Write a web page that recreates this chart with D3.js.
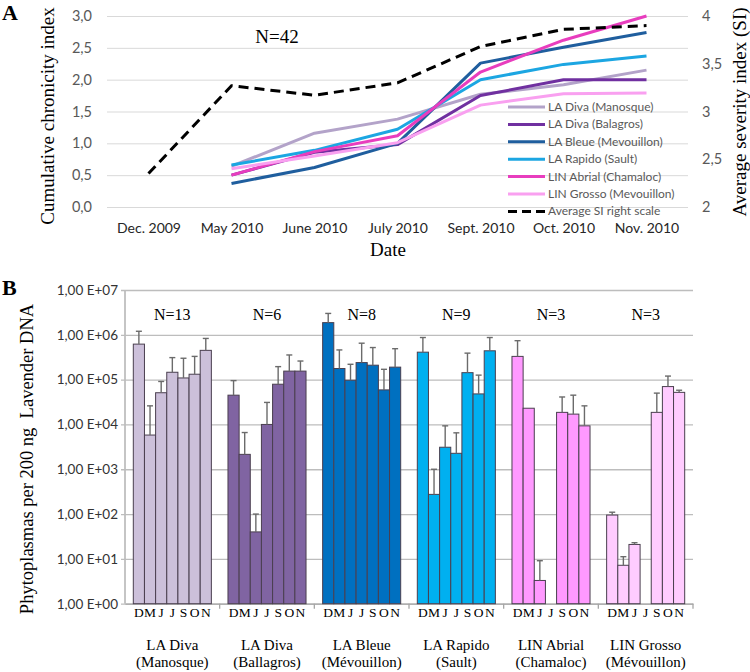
<!DOCTYPE html>
<html>
<head>
<meta charset="utf-8">
<script src="https://cdn.jsdelivr.net/npm/d3@7"></script>
<style>
  html, body { margin: 0; padding: 0; background: #fff; }
  svg { display: block; }
</style>
</head>
<body>
<svg id="chart" width="750" height="672"></svg>
<script>
// ---------------- DATA: Panel A ----------------
const dates = ["Dec. 2009", "May 2010", "June 2010", "July 2010", "Sept. 2010", "Oct. 2010", "Nov. 2010"];
const seriesNames = ["LA Diva (Manosque)", "LA Diva (Balagros)", "LA Bleue (Mevouillon)", "LA Rapido (Sault)", "LIN Abrial (Chamaloc)", "LIN Grosso (Mevouillon)"];
const divaManosque = [null, 0.64, 1.16, 1.38, 1.77, 1.92, 2.15];
const divaBalagros = [null, 0.50, 0.86, 0.98, 1.75, 2.00, 2.00];
const bleueMevouillon = [null, 0.37, 0.62, 1.00, 2.26, 2.51, 2.74];
const rapidoSault = [null, 0.66, 0.89, 1.22, 2.00, 2.24, 2.37];
const abrialChamaloc = [null, 0.50, 0.87, 1.12, 2.12, 2.62, 3.00];
const grossoMevouillon = [null, 0.60, 0.80, 1.01, 1.60, 1.78, 1.79];
const averageSI = [2.35, 3.27, 3.17, 3.30, 3.68, 3.86, 3.90];
const siLabel = "Average SI right scale";
const leftTicksA = [0, 0.5, 1, 1.5, 2, 2.5, 3];
const rightTicksA = [2, 2.5, 3, 3.5, 4];
const lineColors = ["#B3A3C9", "#7030A0", "#1F5E9E", "#1CA6E2", "#E83DBE", "#F9A0F0"];

// ---------------- DATA: Panel B ----------------
const groupNames = ["LA Diva", "LA Diva", "LA Bleue", "LA Rapido", "LIN Abrial", "LIN Grosso"];
const groupSites = ["(Manosque)", "(Ballagros)", "(Mévouillon)", "(Sault)", "(Chamaloc)", "(Mévouillon)"];
const groupN = ["N=13", "N=6", "N=8", "N=9", "N=3", "N=3"];
const monthLetters = ["D", "M", "J", "J", "S", "O", "N"];
const valsManosque = [6.2e5, 5.8e3, 5.1e4, 1.46e5, 1.09e5, 1.32e5, 4.5e5];
const errManosque  = [1.2e6, 2.6e4, 9.1e4, 3.1e5, 3.0e5, 3.3e5, 8.3e5];
const valsBallagros = [4.5e4, 2.15e3, 40, 1.0e4, 7.9e4, 1.55e5, 1.55e5];
const errBallagros  = [9.5e4, 6.6e3, 100, 3.1e4, 1.95e5, 3.55e5, 2.6e5];
const valsBleue = [1.87e6, 1.77e5, 9.7e4, 2.4e5, 2.1e5, 5.9e4, 1.9e5];
const errBleue  = [3.0e6, 4.6e5, 2.2e5, 6.5e5, 5.2e5, 1.7e5, 4.9e5];
const valsRapido = [4.1e5, 275, 3.1e3, 2.27e3, 1.43e5, 4.8e4, 4.4e5];
const errRapido  = [8.7e5, 1.0e3, 9.3e3, 6.5e3, 3.9e5, 1.26e5, 8.7e5];
const valsAbrial = [3.3e5, 2.3e4, 3.3, null, 1.86e4, 1.7e4, 9.3e3];
const errAbrial  = [7.4e5, null, 9.1, null, 4.1e4, 4.5e4, 2.6e4];
const valsGrosso = [95, 7.2, 21, null, 1.86e4, 7.0e4, 5.2e4];
const errGrosso  = [110, 11.2, 23, null, 5.0e4, 1.2e5, 5.8e4];
const barColors = ["#CCC0DA", "#8064A2", "#0070C0", "#00B0F0", "#FF99FF", "#FFCCFF"];
const tickValuesB = [1, 10, 100, 1e3, 1e4, 1e5, 1e6, 1e7];
const tickLabelsB = ["1,00 E+00", "1,00 E+01", "1,00 E+02", "1,00 E+03", "1,00 E+04", "1,00 E+05", "1,00 E+06", "1,00 E+07"];

// ---------------- DRAW ----------------
const svg = d3.select("#chart");
svg.append("rect").attr("width", 750).attr("height", 672).attr("fill", "#fff");
const SANS = "Lato, 'Liberation Sans', sans-serif";
const SERIF = "'Liberation Serif', 'DejaVu Serif', serif";
const comma = v => d3.format("~g")(v).replace(".", ",");

// ===== Panel A =====
const xA = d3.scalePoint().domain(dates).range([107, 688]).padding(0.5);
const yL = d3.scaleLinear().domain([0, 3]).range([207, 16]);
const yR = d3.scaleLinear().domain([2, 4]).range([207, 16]);

const gA = svg.append("g");
const yAxisL = gA.append("g").attr("transform", "translate(107,0)")
  .call(d3.axisLeft(yL).tickValues(leftTicksA).tickSize(-581).tickPadding(15)
    .tickFormat(v => d3.format(".1f")(v).replace(".", ",")));
yAxisL.select(".domain").remove();
yAxisL.selectAll("line").attr("stroke", "#D9D9D9").attr("stroke-width", 1);
yAxisL.selectAll("text").attr("font-family", SANS).attr("font-size", 14.5).attr("fill", "#595959");

const yAxisR = gA.append("g").attr("transform", "translate(688,0)")
  .call(d3.axisRight(yR).tickValues(rightTicksA).tickSize(0).tickPadding(14).tickFormat(comma));
yAxisR.select(".domain").remove();
yAxisR.selectAll("text").attr("font-family", SANS).attr("font-size", 14.5).attr("fill", "#595959");

const xAxisA = gA.append("g").attr("transform", "translate(0,207)")
  .call(d3.axisBottom(xA).tickSize(0).tickPadding(16));
xAxisA.select(".domain").remove();
xAxisA.selectAll("text").attr("font-family", SANS).attr("font-size", 14).attr("fill", "#262626");

const seriesA = [divaManosque, divaBalagros, bleueMevouillon, rapidoSault, abrialChamaloc, grossoMevouillon];
const lineL = d3.line().defined(d => d.v != null).x(d => xA(d.d)).y(d => yL(d.v));
seriesA.forEach((s, i) => {
  gA.append("path")
    .datum(s.map((v, j) => ({ d: dates[j], v })))
    .attr("d", lineL).attr("fill", "none")
    .attr("stroke", lineColors[i]).attr("stroke-width", 3).attr("stroke-linejoin", "round");
});
const lineR = d3.line().x((d, j) => xA(dates[j])).y(d => yR(d));
gA.append("path").datum(averageSI).attr("d", lineR).attr("fill", "none")
  .attr("stroke", "#000").attr("stroke-width", 3).attr("stroke-dasharray", "10,6");

// legend
const legendLabels = seriesNames.concat([siLabel]);
legendLabels.forEach((lab, i) => {
  const y = 107 + i * 17.4;
  const ln = gA.append("line").attr("x1", 508).attr("x2", 545).attr("y1", y).attr("y2", y)
    .attr("stroke-width", 3);
  if (i < 6) ln.attr("stroke", lineColors[i]);
  else ln.attr("stroke", "#000").attr("stroke-dasharray", "9,5");
  gA.append("text").attr("x", 548).attr("y", y + 4).text(lab)
    .attr("font-family", SANS).attr("font-size", 12).attr("fill", "#595959");
});

gA.append("text").attr("x", 277).attr("y", 43).attr("text-anchor", "middle").text("N=42")
  .attr("font-family", SERIF).attr("font-size", 19);
gA.append("text").attr("x", 388).attr("y", 256).attr("text-anchor", "middle").text("Date")
  .attr("font-family", SERIF).attr("font-size", 19);
gA.append("text").attr("transform", "translate(54,116) rotate(-90)").attr("text-anchor", "middle")
  .text("Cumulative chronicity index").attr("font-family", SERIF).attr("font-size", 19);
gA.append("text").attr("transform", "translate(746,112) rotate(-90)").attr("text-anchor", "middle")
  .text("Average severity index (SI)").attr("font-family", SERIF).attr("font-size", 19);
svg.append("text").attr("x", 2).attr("y", 20).text("A")
  .attr("font-family", SERIF).attr("font-size", 22).attr("font-weight", "bold");

// ===== Panel B =====
const gB = svg.append("g");
const groupIdx = d3.range(groupNames.length);
const xG = d3.scaleBand().domain(groupIdx).range([125, 693]).paddingInner(0).paddingOuter(0);
const xBar = d3.scaleBand().domain(d3.range(monthLetters.length)).range([0, xG.bandwidth()]).paddingOuter(0.745).paddingInner(0);
const yB = d3.scaleLog().domain([1, 1e7]).range([603.7, 290]);

const yAxisB = gB.append("g").attr("transform", "translate(125,0)")
  .call(d3.axisLeft(yB).tickValues(tickValuesB).tickSize(4).tickPadding(3)
    .tickFormat((v, i) => tickLabelsB[i]));
yAxisB.selectAll(".tick line").attr("x1", -4).attr("x2", 568).attr("stroke", "#BDBDBD").attr("stroke-width", 1.3);
yAxisB.select(".domain").attr("stroke", "#A6A6A6").attr("stroke-width", 1.3).attr("d", `M0,${yB(1e7)}V${yB(1)}`);
yAxisB.selectAll("text").attr("font-family", SANS).attr("font-size", 13.5).attr("fill", "#333");

// bottom axis with group boundary ticks
const bx = gB.append("g").attr("transform", `translate(0,${yB(1)})`)
  .call(d3.axisBottom(xG).tickSize(0).tickFormat(""));
bx.select(".domain").attr("stroke", "#A6A6A6").attr("stroke-width", 1.3);
groupIdx.slice(1).concat([null]).forEach(g => {
  const x = g == null ? xG.range()[1] : xG(g);
  bx.append("line").attr("x1", x).attr("x2", x).attr("y1", 0).attr("y2", 5)
    .attr("stroke", "#A6A6A6").attr("stroke-width", 1.3);
});

const groupVals = [valsManosque, valsBallagros, valsBleue, valsRapido, valsAbrial, valsGrosso];
const groupErrs = [errManosque, errBallagros, errBleue, errRapido, errAbrial, errGrosso];
groupIdx.forEach(g => {
  const gx = xG(g);
  const vals = groupVals[g], errs = groupErrs[g];
  vals.forEach((v, k) => {
    if (v == null) return;
    const x0 = gx + xBar(k);
    gB.append("rect").attr("x", x0).attr("y", yB(v))
      .attr("width", xBar.bandwidth()).attr("height", yB(1) - yB(v))
      .attr("fill", barColors[g]).attr("stroke", "#4a3f4f").attr("stroke-width", 1);
  });
  errs.forEach((e, k) => {
    if (e == null || vals[k] == null) return;
    const cx = gx + xBar(k) + xBar.bandwidth() / 2;
    gB.append("line").attr("x1", cx).attr("x2", cx).attr("y1", yB(vals[k])).attr("y2", yB(e))
      .attr("stroke", "#6b6b6b").attr("stroke-width", 1.4);
    gB.append("line").attr("x1", cx - 3).attr("x2", cx + 3).attr("y1", yB(e)).attr("y2", yB(e))
      .attr("stroke", "#6b6b6b").attr("stroke-width", 1.4);
  });
  monthLetters.forEach((m, k) => {
    gB.append("text").attr("x", gx + xBar(k) + xBar.bandwidth() / 2).attr("y", 617)
      .attr("text-anchor", "middle").text(m)
      .attr("font-family", SERIF).attr("font-size", 13.5);
  });
  const cx = gx + xG.bandwidth() / 2;
  gB.append("text").attr("x", cx).attr("y", 320).attr("text-anchor", "middle").text(groupN[g])
    .attr("font-family", SERIF).attr("font-size", 16);
  gB.append("text").attr("x", cx).attr("y", 650).attr("text-anchor", "middle").text(groupNames[g])
    .attr("font-family", SERIF).attr("font-size", 15);
  gB.append("text").attr("x", cx).attr("y", 667).attr("text-anchor", "middle").text(groupSites[g])
    .attr("font-family", SERIF).attr("font-size", 15);
});

gB.append("text").attr("transform", "translate(33,459) rotate(-90)").attr("text-anchor", "middle")
  .text("Phytoplasmas per 200 ng  Lavender DNA").attr("font-family", SERIF).attr("font-size", 18.5)
  .attr("xml:space", "preserve").style("white-space", "pre");
svg.append("text").attr("x", 2).attr("y", 295).text("B")
  .attr("font-family", SERIF).attr("font-size", 22).attr("font-weight", "bold");
</script>
</body>
</html>
